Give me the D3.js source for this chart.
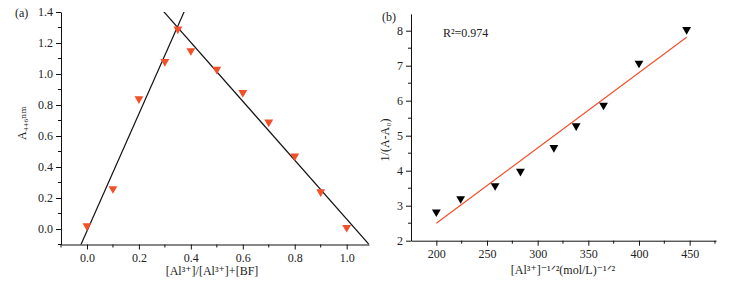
<!doctype html>
<head>
  <meta charset="utf-8">
  <script src="https://cdnjs.cloudflare.com/ajax/libs/d3/7.8.2/d3.min.js"></script>
</head>
<style>
    body { margin: 0; background: #fff; }
    svg text { font-family: "Liberation Serif", "DejaVu Serif", serif; fill: #222; }
    .tick text { font-size: 12px; }
    .domain, .tick line { stroke: #111; }
</style>
<body>
<svg id="chart" width="734" height="282"></svg>
<script>
    // ---------- (a) Job's plot ----------
    const fracA = [0.0, 0.1, 0.2, 0.3, 0.35, 0.4, 0.5, 0.6, 0.7, 0.8, 0.9, 1.0];
    const absA = [0.02, 0.26, 0.84, 1.08, 1.29, 1.15, 1.03, 0.88, 0.69, 0.47, 0.24, 0.01];
    // two straight lines: [slope, intercept]
    const riseLine = [3.78, -0.013];
    const fallLine = [-1.90, 1.964];
    const ticksAx = [0.0, 0.2, 0.4, 0.6, 0.8, 1.0];
    const ticksAy = [0.0, 0.2, 0.4, 0.6, 0.8, 1.0, 1.2, 1.4];

    // ---------- (b) double reciprocal ----------
    const concB = [200, 224, 258, 283, 316, 338, 365, 400, 447];
    const invB = [2.82, 3.20, 3.57, 3.98, 4.66, 5.28, 5.87, 7.07, 8.03];
    const fitB = [0.0215, -1.80];
    const fitRangeB = [200, 447];
    const ticksBx = [200, 250, 300, 350, 400, 450];
    const ticksBy = [2, 3, 4, 5, 6, 7, 8];

    const svg = d3.select('#chart');
    const tri = d3.symbol().type(d3.symbolTriangle).size(34);

    // minor ticks helper
    function minorTicks(g, scale, vals, horizontal, len) {
        g.selectAll('.minor')
            .data(vals)
            .enter()
            .append('line')
            .attr('stroke', '#111')
            .attr(horizontal ? 'x1' : 'y1', (d) => scale(d))
            .attr(horizontal ? 'x2' : 'y2', (d) => scale(d))
            .attr(horizontal ? 'y1' : 'x1', 0)
            .attr(horizontal ? 'y2' : 'x2', horizontal ? len : -len);
    }

    // ---- panel a ----
    const xA = d3.scaleLinear().domain([-0.1, 1.086]).range([61, 369]);
    const yA = d3.scaleLinear().domain([-0.1, 1.4]).range([244.5, 12]);

    svg.append('defs').append('clipPath').attr('id', 'clipA')
        .append('rect').attr('x', 61).attr('y', 12).attr('width', 308).attr('height', 232.5);

    const gA = svg.append('g');
    const axAx = gA.append('g').attr('transform', 'translate(0,244.5)')
        .call(d3.axisBottom(xA).tickValues(ticksAx).tickFormat(d3.format('.1f')).tickSize(5).tickSizeOuter(0));
    minorTicks(axAx, xA, [-0.1, 0.1, 0.3, 0.5, 0.7, 0.9], true, 3);
    axAx.selectAll('.tick text').attr('dy', '0.75em');

    const axAy = gA.append('g').attr('transform', 'translate(61,0)')
        .call(d3.axisLeft(yA).tickValues(ticksAy).tickFormat(d3.format('.1f')).tickSize(5).tickSizeOuter(0));
    minorTicks(axAy, yA, [-0.1, 0.1, 0.3, 0.5, 0.7, 0.9, 1.1, 1.3], false, 3);
    axAy.selectAll('.tick text').attr('x', -8);

    const lineA = gA.append('g').attr('clip-path', 'url(#clipA)');
    [riseLine, fallLine].forEach((c) => {
        lineA.append('line')
            .attr('x1', xA(-0.1)).attr('y1', yA(c[0] * -0.1 + c[1]))
            .attr('x2', xA(1.2)).attr('y2', yA(c[0] * 1.2 + c[1]))
            .attr('stroke', '#111').attr('stroke-width', 1.2);
    });

    gA.selectAll('.ptA')
        .data(fracA)
        .enter()
        .append('path')
        .attr('d', tri)
        .attr('transform', (d, i) => `translate(${xA(d)},${yA(absA[i])}) rotate(180)`)
        .attr('fill', '#f2502a');

    gA.append('text').attr('x', 15).attr('y', 17).attr('font-size', 12).text('(a)');
    gA.append('text').attr('transform', 'translate(26,123) rotate(-90)')
        .attr('text-anchor', 'middle').attr('font-size', 12).text('A₄₄₆ₙₘ');

    gA.append('text').attr('x', 212).attr('y', 275)
        .attr('text-anchor', 'middle').attr('font-size', 12).text('[Al³⁺]/[Al³⁺]+[BF]');

    // ---- panel b ----
    const xB = d3.scaleLinear().domain([175, 476]).range([411, 716]);
    const yB = d3.scaleLinear().domain([2, 8.48]).range([240.7, 13.9]);

    const gB = svg.append('g');
    const axBx = gB.append('g').attr('transform', 'translate(0,240.7)')
        .call(d3.axisBottom(xB).tickValues(ticksBx).tickFormat(d3.format('d')).tickSize(5).tickSizeOuter(0));
    minorTicks(axBx, xB, [225, 275, 325, 375, 425, 475], true, 3);
    axBx.selectAll('.tick text').attr('dy', '0.8em');

    const axBy = gB.append('g').attr('transform', 'translate(411,0)')
        .call(d3.axisLeft(yB).tickValues(ticksBy).tickFormat(d3.format('d')).tickSize(5).tickSizeOuter(0));
    minorTicks(axBy, yB, [2.5, 3.5, 4.5, 5.5, 6.5, 7.5], false, 3);
    axBy.selectAll('.tick text').attr('x', -8);

    gB.append('line')
        .attr('x1', xB(fitRangeB[0])).attr('y1', yB(fitB[0] * fitRangeB[0] + fitB[1]))
        .attr('x2', xB(fitRangeB[1])).attr('y2', yB(fitB[0] * fitRangeB[1] + fitB[1]))
        .attr('stroke', '#f2502a').attr('stroke-width', 1.2);

    gB.selectAll('.ptB')
        .data(concB)
        .enter()
        .append('path')
        .attr('d', tri)
        .attr('transform', (d, i) => `translate(${xB(d)},${yB(invB[i])}) rotate(180)`)
        .attr('fill', '#000');

    gB.append('text').attr('x', 382).attr('y', 21).attr('font-size', 12).text('(b)');
    gB.append('text').attr('x', 443).attr('y', 37).attr('font-size', 12).text('R²=0.974');

    gB.append('text').attr('transform', 'translate(389,140) rotate(-90)')
        .attr('text-anchor', 'middle').attr('font-size', 12).text('1/(A-A₀)');

    gB.append('text').attr('x', 563).attr('y', 274)
        .attr('text-anchor', 'middle').attr('font-size', 12).text('[Al³⁺]⁻¹ᐟ²(mol/L)⁻¹ᐟ²');
</script>
</body>
